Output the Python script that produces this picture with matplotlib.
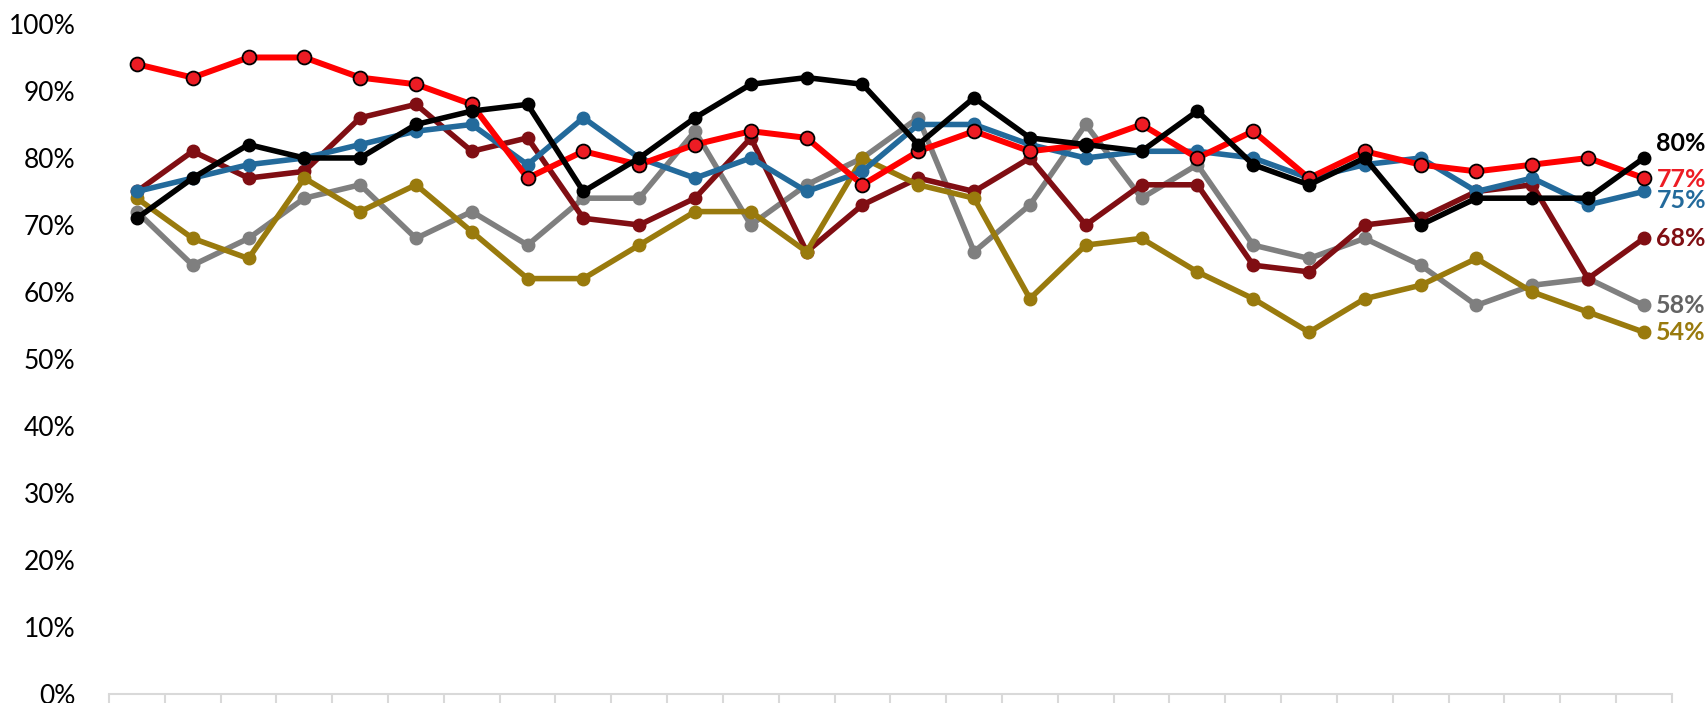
"""
Line chart with six series in percent, end values labelled on the right
"""

import matplotlib.pyplot as plt
from matplotlib.ticker import PercentFormatter, FixedLocator
import numpy as np

plt.rcParams['font.family'] = ['Lato', 'DejaVu Sans']

# Data (values in percent, 28 periods)
periods = list(range(28))

red_vals = [94, 92, 95, 95, 92, 91, 88, 77, 81, 79, 82, 84, 83, 76, 81, 84, 81, 82, 85, 80, 84, 77, 81, 79, 78, 79, 80, 77]
blue_vals = [75, 77, 79, 80, 82, 84, 85, 79, 86, 80, 77, 80, 75, 78, 85, 85, 82, 80, 81, 81, 80, 77, 79, 80, 75, 77, 73, 75]
darkred_vals = [75, 81, 77, 78, 86, 88, 81, 83, 71, 70, 74, 83, 66, 73, 77, 75, 80, 70, 76, 76, 64, 63, 70, 71, 75, 76, 62, 68]
gray_vals = [72, 64, 68, 74, 76, 68, 72, 67, 74, 74, 84, 70, 76, 80, 86, 66, 73, 85, 74, 79, 67, 65, 68, 64, 58, 61, 62, 58]
gold_vals = [74, 68, 65, 77, 72, 76, 69, 62, 62, 67, 72, 72, 66, 80, 76, 74, 59, 67, 68, 63, 59, 54, 59, 61, 65, 60, 57, 54]
black_vals = [71, 77, 82, 80, 80, 85, 87, 88, 75, 80, 86, 91, 92, 91, 82, 89, 83, 82, 81, 87, 79, 76, 80, 70, 74, 74, 74, 80]

fig = plt.figure(figsize=(17.08, 7.03), dpi=100)
ax = fig.add_axes([0.0638, 0.0128, 0.915, 0.9531])

# gray, dark red, gold, blue below; red and black on top
ax.plot(periods, gray_vals, color='#7F7F7F', lw=4, marker='o', ms=9, zorder=2)
ax.plot(periods, darkred_vals, color='#800E13', lw=4, marker='o', ms=9, zorder=3)
ax.plot(periods, gold_vals, color='#997A0D', lw=4, marker='o', ms=9, zorder=4)
ax.plot(periods, blue_vals, color='#236A9B', lw=4, marker='o', ms=9, zorder=5)
ax.plot(periods, red_vals, color='#FF0000', lw=4.3, marker='o', ms=10,
        markerfacecolor='#ED1C24', markeredgecolor='black', markeredgewidth=1.3, zorder=6)
ax.plot(periods, black_vals, color='black', lw=4, marker='o', ms=9, zorder=7)

# End labels (small vertical nudges so they don't collide)
end_labels = [
    (black_vals[-1], 2.2, 'black'),
    (red_vals[-1], -0.2, '#ED1C24'),
    (blue_vals[-1], -1.4, '#236A9B'),
    (darkred_vals[-1], 0, '#800E13'),
    (gray_vals[-1], 0, '#636363'),
    (gold_vals[-1], 0, '#997A0D'),
]
for val, nudge, col in end_labels:
    ax.annotate(f'{val}%', xy=(periods[-1], val + nudge), xytext=(9, 0),
                textcoords='offset points', va='center', ha='left',
                fontsize=18, fontweight='bold', color=col, annotation_clip=False)

# Axes styling
ax.set_ylim(0, 100)
ax.set_xlim(-0.5, len(periods) - 0.5)
ax.set_yticks(np.arange(0, 101, 10))
ax.yaxis.set_major_formatter(PercentFormatter(decimals=0))
ax.tick_params(axis='y', length=0, labelsize=19, pad=24)
ax.xaxis.set_major_locator(FixedLocator(np.arange(-0.5, len(periods), 1)))
ax.tick_params(axis='x', length=10, width=1.5, color='#D9D9D9', labelbottom=False)

for side in ['top', 'right', 'left']:
    ax.spines[side].set_visible(False)
ax.spines['bottom'].set_color('#D9D9D9')
ax.spines['bottom'].set_linewidth(1.5)

fig.savefig('out.png', dpi=100)
